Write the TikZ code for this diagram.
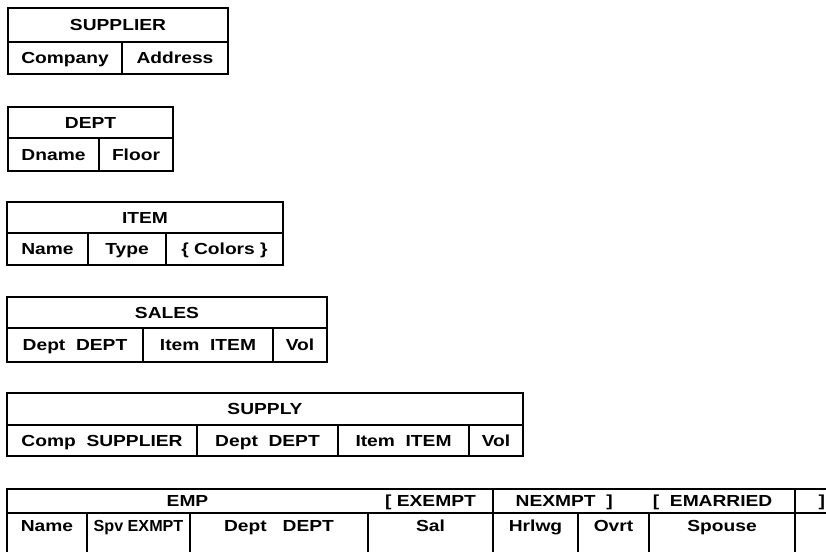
\documentclass[tikz,border=0pt]{standalone}
\usepackage{fontspec}
\setmainfont{Liberation Sans}[FakeStretch=1.2]
\usepackage{tikz}
\usetikzlibrary{positioning,calc}

\begin{document}
\begin{tikzpicture}[x=1pt, y=-1pt, line width=1.3pt,
    cell/.style={rectangle, draw, anchor=north west, inner sep=0pt, outer sep=0pt, minimum height=32pt, text height=11.5pt, text depth=0pt, font=\fontsize{16}{18}\selectfont\bfseries},
    openrow/.style={cell, minimum height=40pt, text height=17pt, text depth=21pt},
    tag/.style={inner sep=0pt, text height=11.5pt, text depth=0pt, font=\fontsize{16}{18}\selectfont\bfseries}
]
    \useasboundingbox (0,0) rectangle (826,551);

    % SUPPLIER
    \node[cell, minimum width=220pt, minimum height=34pt] (supplier) at (8,8) {SUPPLIER};
    \node[cell, minimum width=114pt, below right=0pt of supplier.south west] (supcompany) {Company};
    \node[cell, minimum width=106pt, right=0pt of supcompany] (supaddress) {Address};

    % DEPT
    \node[cell, minimum width=165pt, minimum height=31pt] (dept) at (8,107) {DEPT};
    \node[cell, minimum width=91pt, minimum height=33pt, below right=0pt of dept.south west] (deptdname) {Dname};
    \node[cell, minimum width=74pt, minimum height=33pt, right=0pt of deptdname] (deptfloor) {Floor};

    % ITEM
    \node[cell, minimum width=276pt, minimum height=31pt] (item) at (7,202) {ITEM};
    \node[cell, minimum width=81pt, below right=0pt of item.south west] (itemname) {Name};
    \node[cell, minimum width=78pt, right=0pt of itemname] (itemtype) {Type};
    \node[cell, minimum width=117pt, right=0pt of itemtype] (itemcolors) {\{ Colors \}};

    % SALES
    \node[cell, minimum width=320pt, minimum height=31pt] (sales) at (7,297) {SALES};
    \node[cell, minimum width=136pt, minimum height=34pt, below right=0pt of sales.south west] (salesdept) {Dept~ DEPT};
    \node[cell, minimum width=130pt, minimum height=34pt, right=0pt of salesdept] (salesitem) {Item~ ITEM};
    \node[cell, minimum width=54pt, minimum height=34pt, right=0pt of salesitem] (salesvol) {Vol};

    % SUPPLY
    \node[cell, minimum width=516pt] (supply) at (7,393) {SUPPLY};
    \node[cell, minimum width=190pt, minimum height=31pt, below right=0pt of supply.south west] (supplycomp) {Comp~ SUPPLIER};
    \node[cell, minimum width=141pt, minimum height=31pt, right=0pt of supplycomp] (supplydept) {Dept~ DEPT};
    \node[cell, minimum width=131pt, minimum height=31pt, right=0pt of supplydept] (supplyitem) {Item~ ITEM};
    \node[cell, minimum width=54pt, minimum height=31pt, right=0pt of supplyitem] (supplyvol) {Vol};

    % EMP, header cells
    \node[cell, minimum width=486pt, minimum height=24pt] (emphead) at (7,489) {};
    \node[cell, minimum width=302pt, minimum height=24pt, right=0pt of emphead] (empvariant) {};
    \node[cell, minimum width=50pt, minimum height=24pt, right=0pt of empvariant] (empclose) {};

    % EMP, field cells
    \node[openrow, minimum width=80pt, below right=0pt of emphead.south west] (empname) {Name};
    \node[openrow, minimum width=103pt, right=0pt of empname] (empspv) {\scalebox{0.84}[1]{Spv EXMPT}};
    \node[openrow, minimum width=178pt, right=0pt of empspv] (empdept) {Dept~~ DEPT};
    \node[openrow, minimum width=125pt, right=0pt of empdept] (empsal) {Sal};
    \node[openrow, minimum width=85pt, right=0pt of empsal] (emphrlwg) {Hrlwg};
    \node[openrow, minimum width=71pt, right=0pt of emphrlwg] (empovrt) {Ovrt};
    \node[openrow, minimum width=146pt, right=0pt of empovrt] (empspouse) {Spouse};
    \node[openrow, minimum width=50pt, right=0pt of empspouse] (empblank) {};

    % EMP, header texts
    \node[tag, yshift=12pt] (emplabel) at ($(empname.north west)!0.5!(empdept.north east)$) {EMP};
    \node[tag, yshift=12pt] (empexempt) at (empsal.north) {[ EXEMPT};
    \node[tag, anchor=west, xshift=22pt] (empnexmpt) at (empvariant.west) {NEXMPT~ ]};
    \node[tag, anchor=east, xshift=-22pt] (empmarried) at (empvariant.east) {[~ EMARRIED};
    \node[tag, anchor=west, xshift=23pt] (empbracket) at (empclose.west) {]};
\end{tikzpicture}
\end{document}
